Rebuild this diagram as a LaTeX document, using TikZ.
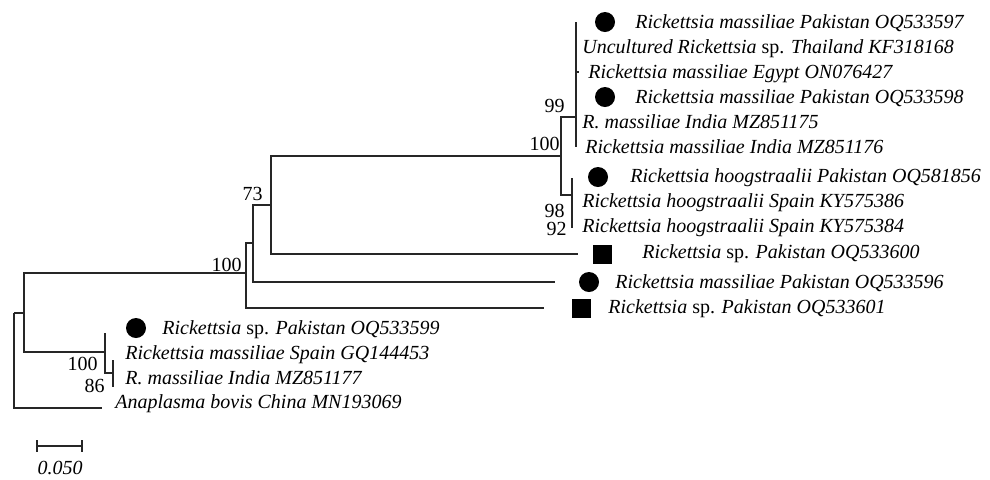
\documentclass[tikz,border=0pt]{standalone}
\usepackage{fontspec}
\setmainfont{Liberation Serif}
\usetikzlibrary{arrows,shapes}
\tikzstyle{taxon} = [anchor=west, inner sep=0pt, text height=6.6pt, text depth=0pt, font=\itshape]
\tikzstyle{boot} = [anchor=base east, inner sep=0pt]
\tikzstyle{branch} = [draw, line width=0.65pt, black!85]
\tikzstyle{dotmark} = [circle, fill, inner sep=0pt, minimum size=10pt]
\tikzstyle{sqmark} = [rectangle, fill, inner sep=0pt, minimum size=9.5pt]

\begin{document}
\begin{tikzpicture}[x=0.5pt, y=-0.5pt, font=\fontsize{10}{12}\selectfont]
        \useasboundingbox (0,0) rectangle (990,479);
        % join points of the tree
        \coordinate (root) at (14,313);
        \coordinate (n0) at (24,313);
        \coordinate (n1) at (246,273);
        \coordinate (n2) at (253,243);
        \coordinate (n3) at (271,205);
        \coordinate (n4) at (561,156);
        \coordinate (n5) at (576,117);
        \coordinate (n6) at (572,195);
        \coordinate (n7) at (105,352);
        \coordinate (n8) at (113,373);
        % tips
        \coordinate (t1) at (576,22);
        \coordinate (t2) at (576,47);
        \coordinate (t3) at (579,72);
        \coordinate (t4) at (576,97);
        \coordinate (t5) at (576,122);
        \coordinate (t6) at (576,147);
        \coordinate (t7) at (572,178);
        \coordinate (t8) at (572,201);
        \coordinate (t9) at (572,228);
        \coordinate (t10) at (578,254);
        \coordinate (t11) at (555,282);
        \coordinate (t12) at (544,308);
        \coordinate (t13) at (105,333);
        \coordinate (t14) at (113,360);
        \coordinate (t15) at (113,387);
        \coordinate (t16) at (102,408);
        % branches
        \foreach \p/\c in {root/n0,root/t16,n0/n1,n0/n7,n1/n2,n1/t12,n2/n3,n2/t11,
                n3/n4,n3/t10,n4/n5,n4/n6,n5/t1,n5/t2,n5/t3,n5/t4,n5/t5,n5/t6,
                n6/t7,n6/t8,n6/t9,n7/t13,n7/n8,n8/t14,n8/t15}
                \path[branch] (\p) |- (\c);
        % markers
        \path[] node[dotmark] (m1) at (605,22) {};
        \path[] node[dotmark] (m4) at (605,97) {};
        \path[] node[dotmark] (m7) at (598,177) {};
        \path[] node[sqmark] (m10) at (602,254) {};
        \path[] node[dotmark] (m11) at (589,282) {};
        \path[] node[sqmark] (m12) at (581,308) {};
        \path[] node[dotmark] (m13) at (136,328) {};
        % taxa
        \path[] node[taxon] (l1) at (635,22) {Rickettsia massiliae Pakistan OQ533597};
        \path[] node[taxon] (l2) at (582,47) {Uncultured Rickettsia \upshape sp. \itshape Thailand KF318168};
        \path[] node[taxon] (l3) at (588,72) {Rickettsia massiliae Egypt ON076427};
        \path[] node[taxon] (l4) at (635,97) {Rickettsia massiliae Pakistan OQ533598};
        \path[] node[taxon] (l5) at (582,122) {R. massiliae India MZ851175};
        \path[] node[taxon] (l6) at (585,147) {Rickettsia massiliae India MZ851176};
        \path[] node[taxon] (l7) at (630,176) {Rickettsia hoogstraalii Pakistan OQ581856};
        \path[] node[taxon] (l8) at (582,201) {Rickettsia hoogstraalii Spain KY575386};
        \path[] node[taxon] (l9) at (582,226) {Rickettsia hoogstraalii Spain KY575384};
        \path[] node[taxon] (l10) at (642,252) {Rickettsia \upshape sp. \itshape Pakistan OQ533600};
        \path[] node[taxon] (l11) at (615,282) {Rickettsia massiliae Pakistan OQ533596};
        \path[] node[taxon] (l12) at (608,307) {Rickettsia \upshape sp. \itshape Pakistan OQ533601};
        \path[] node[taxon] (l13) at (162,328) {Rickettsia \upshape sp. \itshape Pakistan OQ533599};
        \path[] node[taxon] (l14) at (125,353) {Rickettsia massiliae Spain GQ144453};
        \path[] node[taxon] (l15) at (125,378) {R. massiliae India MZ851177};
        \path[] node[taxon] (l16) at (115,402) {Anaplasma bovis China MN193069};
        % bootstrap values
        \path[] node[boot] (b99) at (565,112) {99};
        \path[] node[boot] (b100a) at (560,150) {100};
        \path[] node[boot] (b98) at (565,217) {98};
        \path[] node[boot] (b92) at (567,235) {92};
        \path[] node[boot] (b73) at (263,200) {73};
        \path[] node[boot] (b100b) at (242,271) {100};
        \path[] node[boot] (b100c) at (98,370) {100};
        \path[] node[boot] (b86) at (105,392) {86};
        % scale bar
        \coordinate (s0) at (37,446);
        \coordinate (s1) at (82,446);
        \path[branch] (s0) -- (s1);
        \path[branch] ([yshift=3pt]s0) -- ([yshift=-3pt]s0);
        \path[branch] ([yshift=3pt]s1) -- ([yshift=-3pt]s1);
        \path[] node[font=\itshape, inner sep=0pt] (scale) at (60,468) {0.050};
      \end{tikzpicture}
\end{document}
